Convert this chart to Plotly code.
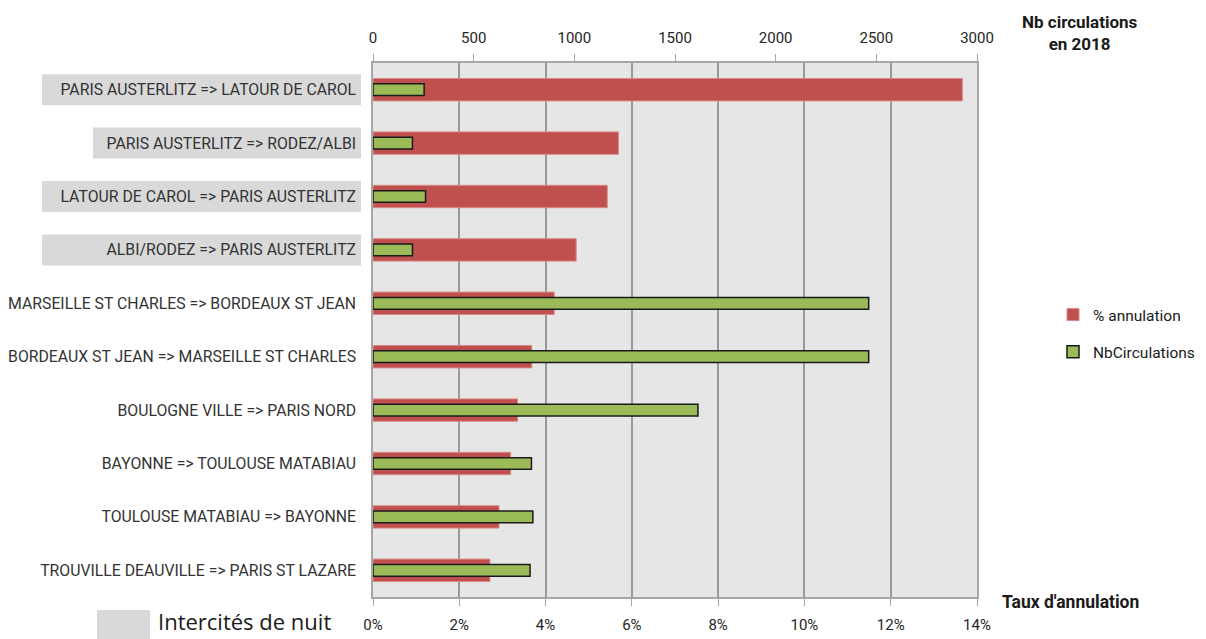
import plotly.graph_objects as go

# données
lignes = [
    "PARIS AUSTERLITZ => LATOUR DE CAROL",
    "PARIS AUSTERLITZ => RODEZ/ALBI",
    "LATOUR DE CAROL => PARIS AUSTERLITZ",
    "ALBI/RODEZ => PARIS AUSTERLITZ",
    "MARSEILLE ST CHARLES => BORDEAUX ST JEAN",
    "BORDEAUX ST JEAN => MARSEILLE ST CHARLES",
    "BOULOGNE VILLE => PARIS NORD",
    "BAYONNE => TOULOUSE MATABIAU",
    "TOULOUSE MATABIAU => BAYONNE",
    "TROUVILLE DEAUVILLE => PARIS ST LAZARE",
]
taux_annulation = [0.1366, 0.0569, 0.0543, 0.0471, 0.0420, 0.0368, 0.0335, 0.0319, 0.0292, 0.0271]
nb_circulations = [254, 196, 261, 196, 2462, 2462, 1614, 787, 794, 780]
lignes_nuit = lignes[:4]

# bords gauches des cadres gris (px) pour les trains de nuit
cadre_gauche = {lignes[0]: 42, lignes[1]: 93, lignes[2]: 42, lignes[3]: 42}

FONT = "Roboto, sans-serif"
OFF = 8  # marge par défaut du <body>
W, H = 1206 - OFF, 639 - OFF
L, R, T, B = 373 - OFF, 229, 63 - OFF, 42
pw, ph = W - L - R, H - T - B


def px(x):
    return (x - 373) / pw


def py(y):
    return 1 - (y - 63) / ph


fig = go.Figure()
fig.add_trace(go.Bar(
    y=lignes, x=taux_annulation, orientation="h", name="% annulation",
    marker=dict(color="#c0504d", line=dict(color="#d98a88", width=1)),
    width=0.42, xaxis="x", yaxis="y", legendgroup="a",
))
fig.add_trace(go.Bar(
    y=lignes, x=nb_circulations, orientation="h", name="NbCirculations",
    marker=dict(color="#9bbb59", line=dict(color="#1a1a1a", width=1.5)),
    width=0.22, xaxis="x2", yaxis="y", legendgroup="b",
))

shapes = []
n = len(lignes)
for nom in lignes_nuit:
    i = lignes.index(nom)
    yc = 1 - (i + 0.5) / n
    shapes.append(dict(
        type="rect", xref="paper", yref="paper", layer="below",
        x0=px(cadre_gauche[nom]), x1=px(361),
        y0=yc - 0.29 / n, y1=yc + 0.29 / n,
        fillcolor="#d9d9d9", line=dict(width=0),
    ))
# légende "Intercités de nuit"
shapes.append(dict(
    type="rect", xref="paper", yref="paper",
    x0=px(97), x1=px(150), y0=py(639), y1=py(610),
    fillcolor="#d9d9d9", line=dict(width=0),
))

annotations = [
    dict(text="<b>Nb circulations<br>en 2018</b>", xref="paper", yref="paper",
         x=px(1080), y=py(33), xanchor="center", yanchor="middle", showarrow=False,
         font=dict(size=17, color="#1a1a1a", family=FONT)),
    dict(text="<b>Taux d'annulation</b>", xref="paper", yref="paper",
         x=px(1070), y=py(602), xanchor="center", yanchor="middle", showarrow=False,
         font=dict(size=17.5, color="#1a1a1a", family=FONT)),
    dict(text="Intercités de nuit", xref="paper", yref="paper",
         x=px(156), y=py(621), xanchor="left", yanchor="middle", showarrow=False,
         font=dict(size=22, color="#1a1a1a", family="Open Sans, sans-serif")),
]

fig.update_layout(
    width=W, height=H,
    margin=dict(l=L, r=R, t=T, b=B, autoexpand=False),
    paper_bgcolor="white", plot_bgcolor="#e6e6e6",
    barmode="overlay",
    font=dict(family=FONT, size=15, color="#262626"),
    xaxis=dict(
        range=[0, 0.14], dtick=0.02, tickformat=".0%", side="bottom",
        showgrid=True, gridcolor="#999999", gridwidth=1.5,
        showline=True, linecolor="#a6a6a6", linewidth=1.5, mirror=False,
        ticks="outside", ticklen=7, tickcolor="#a6a6a6", zeroline=False,
        ticklabelstandoff=6, automargin=False,
    ),
    xaxis2=dict(
        range=[0, 3000], dtick=500, side="top", overlaying="x",
        showgrid=False, showline=True, linecolor="#a6a6a6", linewidth=1.5,
        ticks="outside", ticklen=7, tickcolor="#a6a6a6", zeroline=False,
        ticklabelstandoff=5, automargin=False,
    ),
    yaxis=dict(
        categoryorder="array", categoryarray=lignes, autorange="reversed",
        showgrid=False, showline=True, linecolor="#a6a6a6", linewidth=1.5,
        mirror=True, ticks="", ticklabelstandoff=12, automargin=False,
        tickfont=dict(size=15.8, color="#333333"),
    ),
    legend=dict(
        x=px(1053), y=py(298), xanchor="left", yanchor="top",
        font=dict(size=15.5, color="#1a1a1a"), tracegroupgap=14,
        bgcolor="rgba(0,0,0,0)",
    ),
    shapes=shapes,
    annotations=annotations,
    showlegend=True,
)

fig.write_html("out.html")
